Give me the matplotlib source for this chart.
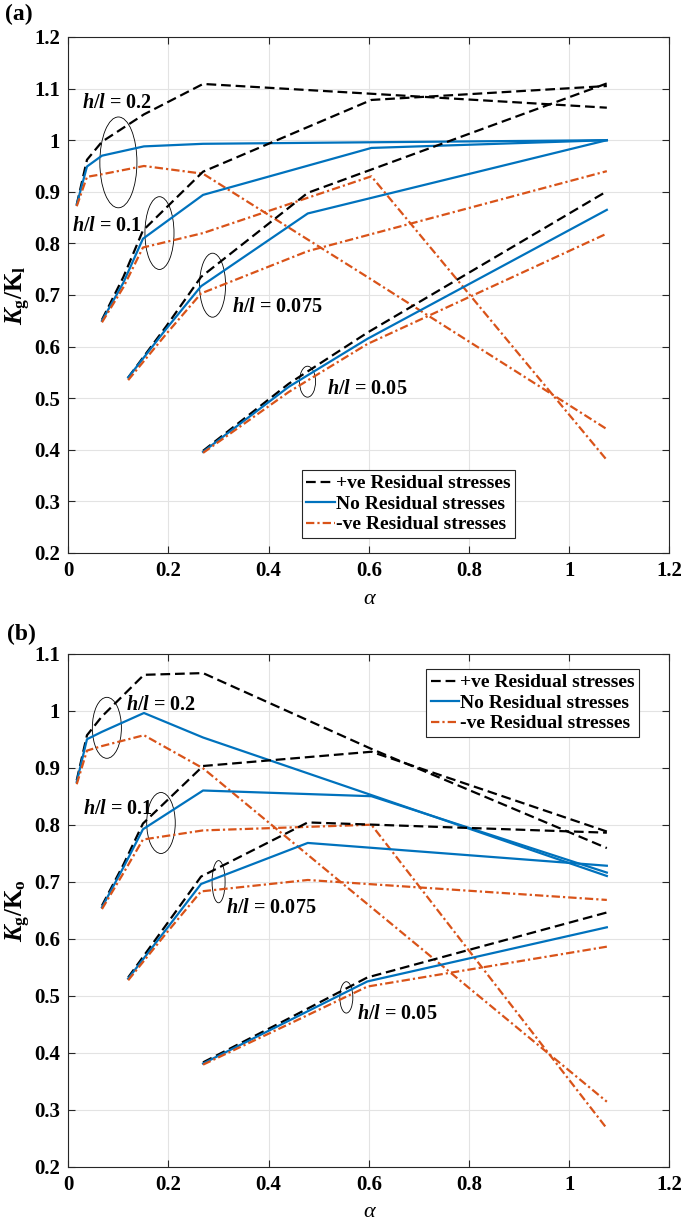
import matplotlib
matplotlib.use("Agg")
import matplotlib.pyplot as plt
from matplotlib.patches import Ellipse

plt.rcParams['font.family'] = ['Liberation Serif', 'DejaVu Serif']
plt.rcParams['mathtext.fontset'] = 'custom'
plt.rcParams['mathtext.it'] = 'Liberation Serif:italic:bold'
plt.rcParams['mathtext.rm'] = 'Liberation Serif:bold'
plt.rcParams['mathtext.bf'] = 'Liberation Serif:bold'
plt.rcParams['lines.scale_dashes'] = False

# ---------------- data ----------------
alpha_h02 = [0.0168, 0.0373, 0.0672, 0.151, 0.269, 0.605, 1.075]
alpha_h01 = [0.0672, 0.11, 0.149, 0.269, 0.605, 1.075]
alpha_h0075 = [0.1195, 0.196, 0.265, 0.478, 1.075]
alpha_h005 = [0.269, 0.44, 0.597, 1.075]

# panel (a): Kg/Kl
a_pos_h02 = [0.875, 0.962, 0.997, 1.05, 1.109, 1.09, 1.063]
a_no_h02 = [0.875, 0.949, 0.970, 0.988, 0.993, 0.996, 1.0]
a_neg_h02 = [0.872, 0.929, 0.934, 0.950, 0.935, 0.73, 0.44]
a_pos_h01 = [0.652, 0.735, 0.825, 0.939, 1.078, 1.105]
a_no_h01 = [0.650, 0.724, 0.809, 0.894, 0.985, 1.0]
a_neg_h01 = [0.647, 0.715, 0.792, 0.82, 0.93, 0.38]
a_pos_h0075 = [0.54, 0.64, 0.735, 0.898, 1.11]
a_no_h0075 = [0.54, 0.635, 0.717, 0.858, 1.0]
a_neg_h0075 = [0.535, 0.625, 0.703, 0.785, 0.94]
a_pos_h005 = [0.398, 0.528, 0.627, 0.901]
a_no_h005 = [0.396, 0.522, 0.615, 0.865]
a_neg_h005 = [0.394, 0.512, 0.605, 0.819]

# panel (b): Kg/Ko
b_pos_h02 = [0.878, 0.957, 0.99, 1.063, 1.066, 0.933, 0.759]
b_no_h02 = [0.875, 0.950, 0.963, 0.996, 0.953, 0.852, 0.710]
b_neg_h02 = [0.871, 0.930, 0.938, 0.957, 0.899, 0.655, 0.314]
b_pos_h01 = [0.658, 0.73, 0.802, 0.903, 0.928, 0.788]
b_no_h01 = [0.655, 0.725, 0.792, 0.86, 0.850, 0.716]
b_neg_h01 = [0.652, 0.715, 0.774, 0.79, 0.80, 0.267]
b_pos_h0075 = [0.532, 0.625, 0.709, 0.804, 0.786]
b_no_h0075 = [0.530, 0.617, 0.696, 0.768, 0.728]
b_neg_h0075 = [0.527, 0.61, 0.683, 0.703, 0.668]
b_pos_h005 = [0.383, 0.46, 0.532, 0.646]
b_no_h005 = [0.381, 0.456, 0.525, 0.620]
b_neg_h005 = [0.379, 0.45, 0.516, 0.586]

legend_labels = ['+ve Residual stresses', 'No Residual stresses', '-ve Residual stresses']
hl_labels = ['0.2', '0.1', '0.075', '0.05']
xticks = [0, 0.2, 0.4, 0.6, 0.8, 1, 1.2]
# --------------------------------------

BLACK = 'black'
BLUE = '#0072BD'
RED = '#D95319'
LW = 1.6
DASH = (0, (7, 3.5))
DASHDOT = (0, (6, 2.2, 1.6, 2.2))

fig = plt.figure(figsize=(6.85, 12.21), dpi=100)


def style_axes(ax, ymin, ymax, yticks, ylabel):
    ax.set_xlim(0, 1.2)
    ax.set_ylim(ymin, ymax)
    ax.set_xticks(xticks)
    ax.set_xticklabels(['0', '0.2', '0.4', '0.6', '0.8', '1', '1.2'])
    ax.set_yticks(yticks)
    ax.set_yticklabels([('%g' % t) for t in yticks])
    ax.grid(True, color='#e3e3e3', linewidth=0.8)
    ax.set_axisbelow(True)
    ax.tick_params(direction='in', top=True, right=True, length=5, width=0.8,
                   colors='#262626', labelsize=15, pad=6)
    for lab in ax.get_xticklabels() + ax.get_yticklabels():
        lab.set_fontweight('bold')
        lab.set_color('black')
    for s in ax.spines.values():
        s.set_color('#262626')
        s.set_linewidth(0.8)
    ax.set_xlabel('α', fontsize=16, fontstyle='italic', labelpad=6)
    ax.set_ylabel(ylabel, fontsize=18, labelpad=1)


def draw_sets(ax, sets):
    handles = []
    for alpha, pos, no, neg in sets:
        h1, = ax.plot(alpha, pos, color=BLACK, linestyle=DASH, linewidth=LW)
        h2, = ax.plot(alpha, no, color=BLUE, linestyle='-', linewidth=LW)
        h3, = ax.plot(alpha, neg, color=RED, linestyle=DASHDOT, linewidth=LW)
        handles = [h1, h2, h3]
    return handles


def annotate(ax, ellipses, labels):
    for (cx, cy, w, h) in ellipses:
        ax.add_patch(Ellipse((cx, cy), w, h, fill=False, edgecolor='black', linewidth=0.6))
    for (x, y, t) in labels:
        ax.text(x, y, r'$h/l$' + ' = ' + t, fontsize=14.5, fontweight='bold',
                ha='left', va='center')


def make_legend(ax, handles, anchor):
    leg = ax.legend(handles, legend_labels, loc='lower left', bbox_to_anchor=anchor,
                    prop={'family': 'Liberation Serif', 'weight': 'bold', 'size': 14},
                    handlelength=1.45, handletextpad=0.05, borderpad=0.25,
                    labelspacing=0.15, borderaxespad=0, fancybox=False,
                    framealpha=1, edgecolor='#262626')
    leg.get_frame().set_linewidth(0.8)
    return leg


# Panel (a)
axA = fig.add_axes([0.0997, 0.5471, 0.8776, 0.4226])
hA = draw_sets(axA, [
    (alpha_h02, a_pos_h02, a_no_h02, a_neg_h02),
    (alpha_h01, a_pos_h01, a_no_h01, a_neg_h01),
    (alpha_h0075, a_pos_h0075, a_no_h0075, a_neg_h0075),
    (alpha_h005, a_pos_h005, a_no_h005, a_neg_h005),
])
style_axes(axA, 0.2, 1.2, [0.2, 0.3, 0.4, 0.5, 0.6, 0.7, 0.8, 0.9, 1.0, 1.1, 1.2],
           r'$K_{\mathbf{g}}/\mathbf{K}_{\mathbf{l}}$')
annotate(axA,
         [(0.100, 0.957, 0.074, 0.176), (0.182, 0.820, 0.058, 0.141),
          (0.288, 0.719, 0.052, 0.124), (0.4775, 0.532, 0.032, 0.060)],
         [(0.027, 1.072, hl_labels[0]), (0.008, 0.833, hl_labels[1]),
          (0.326, 0.676, hl_labels[2]), (0.517, 0.518, hl_labels[3])])
make_legend(axA, hA, (0.388, 0.0285))
fig.text(0.008, 0.9885, '(a)', fontsize=17, fontweight='bold', ha='left', va='center')

# Panel (b)
axB = fig.add_axes([0.0997, 0.0445, 0.8776, 0.4201])
hB = draw_sets(axB, [
    (alpha_h02, b_pos_h02, b_no_h02, b_neg_h02),
    (alpha_h01, b_pos_h01, b_no_h01, b_neg_h01),
    (alpha_h0075, b_pos_h0075, b_no_h0075, b_neg_h0075),
    (alpha_h005, b_pos_h005, b_no_h005, b_neg_h005),
])
style_axes(axB, 0.2, 1.1, [0.2, 0.3, 0.4, 0.5, 0.6, 0.7, 0.8, 0.9, 1.0, 1.1],
           r'$K_{\mathbf{g}}/\mathbf{K}_{\mathbf{o}}$')
annotate(axB,
         [(0.077, 0.970, 0.058, 0.107), (0.185, 0.803, 0.057, 0.107),
          (0.300, 0.700, 0.026, 0.074), (0.555, 0.497, 0.026, 0.055)],
         [(0.115, 1.010, hl_labels[0]), (0.029, 0.827, hl_labels[1]),
          (0.314, 0.654, hl_labels[2]), (0.577, 0.468, hl_labels[3])])
make_legend(axB, hB, (0.595, 0.837))
fig.text(0.010, 0.4805, '(b)', fontsize=17, fontweight='bold', ha='left', va='center')

fig.savefig('out.png', dpi=100)
